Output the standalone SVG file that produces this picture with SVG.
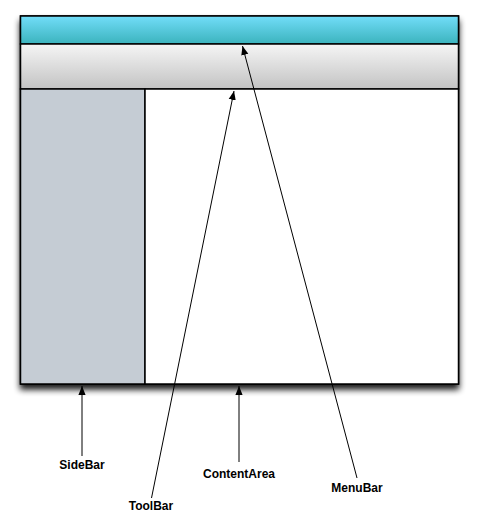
<svg xmlns="http://www.w3.org/2000/svg" width="478" height="525" viewBox="0 0 478 525">
<defs>
<linearGradient id="gMenu" x1="0" y1="0" x2="0" y2="1"><stop offset="0" stop-color="#72ddf9"/><stop offset="1" stop-color="#3bb3bd"/></linearGradient>
<linearGradient id="gTool" x1="0" y1="0" x2="0" y2="1"><stop offset="0" stop-color="#f5f5f5"/><stop offset="1" stop-color="#c3c3c3"/></linearGradient>
<filter id="sh" x="-10%" y="-10%" width="120%" height="125%"><feGaussianBlur in="SourceAlpha" stdDeviation="3"/><feOffset dx="0" dy="5"/><feComponentTransfer><feFuncA type="linear" slope="0.9"/></feComponentTransfer><feMerge><feMergeNode/><feMergeNode in="SourceGraphic"/></feMerge></filter>
<marker id="ah" viewBox="0 0 10 10" refX="10" refY="5" markerWidth="9" markerHeight="9" markerUnits="userSpaceOnUse" orient="auto"><path d="M0,1 L10,5 L0,9 Z" fill="#000"/></marker>
<style>
.b{stroke:#000;stroke-width:1.5}
.c{stroke:#000;stroke-width:1;fill:none;marker-end:url(#ah)}
.t{font-family:"Liberation Sans",Arial,sans-serif;font-weight:bold;font-size:12px;fill:#000;text-anchor:middle}
</style>
</defs>
<g id="window" filter="url(#sh)">
<rect x="20.5" y="16" width="438" height="368" fill="#fff" class="b"/>
</g>
<g id="MenuBar"><rect x="20.5" y="16" width="438" height="28" fill="url(#gMenu)" class="b"/></g>
<g id="ToolBar"><rect x="20.5" y="44" width="438" height="45" fill="url(#gTool)" class="b"/></g>
<g id="SideBar"><rect x="20.5" y="89" width="124.5" height="295" fill="#c5ccd4" class="b"/></g>
<g id="ContentArea"><rect x="145" y="89" width="313.5" height="295" fill="#fff" class="b"/></g>
<g id="connectors">
<line x1="357" y1="478" x2="242.5" y2="46" class="c"/>
<line x1="151.5" y1="498" x2="234" y2="91" class="c"/>
<line x1="239" y1="462" x2="239" y2="386" class="c"/>
<line x1="82" y1="456" x2="82" y2="386" class="c"/>
</g>
<g id="labels">
<text class="t" x="82" y="469">SideBar</text>
<text class="t" x="239" y="478">ContentArea</text>
<text class="t" x="151" y="510">ToolBar</text>
<text class="t" x="357" y="492">MenuBar</text>
</g>
</svg>
